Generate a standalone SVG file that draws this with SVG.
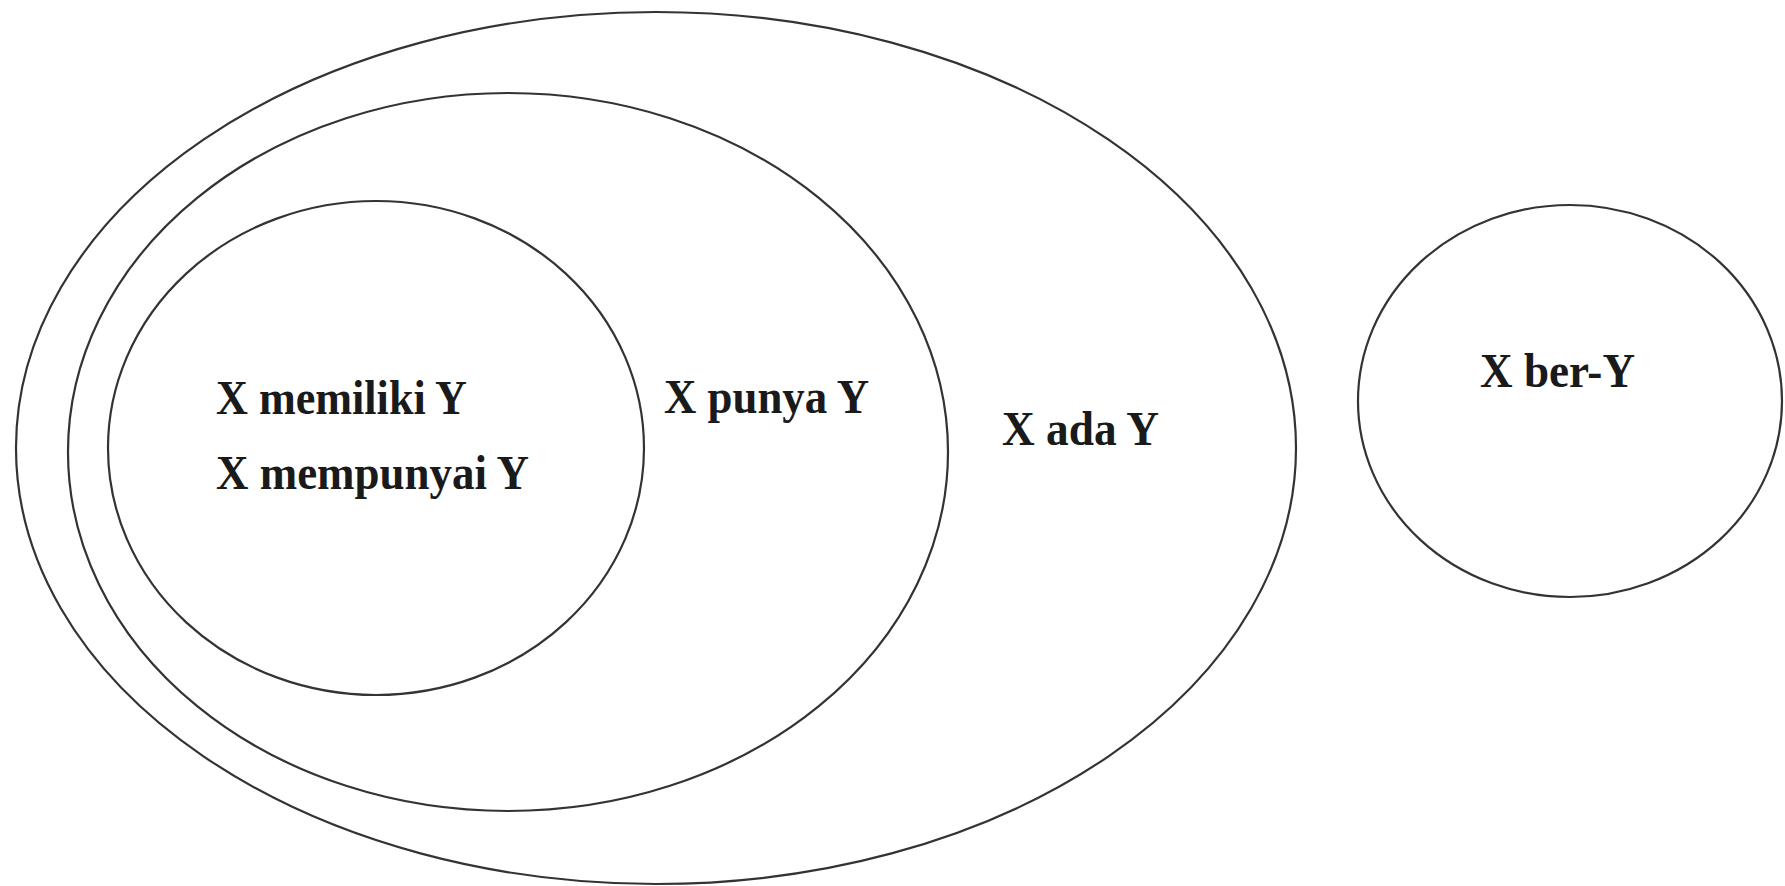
<svg xmlns="http://www.w3.org/2000/svg" width="1785" height="886" viewBox="0 0 1785 886">
<style>
.set{fill:none;stroke:#333;stroke-width:2.2}
.lbl{font-family:"Liberation Serif","Times New Roman",serif;font-weight:bold;font-size:48px;fill:#1a1a1a}
</style>
<rect width="1785" height="886" fill="#fff"/>
<g id="ada">
<ellipse class="set" cx="656" cy="448" rx="640" ry="436"/>
<text class="lbl" x="1002" y="445" textLength="157" lengthAdjust="spacingAndGlyphs">X ada Y</text>
</g>
<g id="punya">
<ellipse class="set" cx="508" cy="452" rx="440" ry="359"/>
<text class="lbl" x="664" y="413" textLength="205" lengthAdjust="spacingAndGlyphs">X punya Y</text>
</g>
<g id="memiliki">
<ellipse class="set" cx="376" cy="448" rx="268" ry="247"/>
<text class="lbl" x="216" y="414" textLength="251" lengthAdjust="spacingAndGlyphs">X memiliki Y</text>
<text class="lbl" x="216" y="489" textLength="313" lengthAdjust="spacingAndGlyphs">X mempunyai Y</text>
</g>
<g id="ber">
<ellipse class="set" cx="1570" cy="401" rx="212" ry="196"/>
<text class="lbl" x="1480" y="387" textLength="155" lengthAdjust="spacingAndGlyphs">X ber-Y</text>
</g>
<g id="connectors"/>
</svg>
